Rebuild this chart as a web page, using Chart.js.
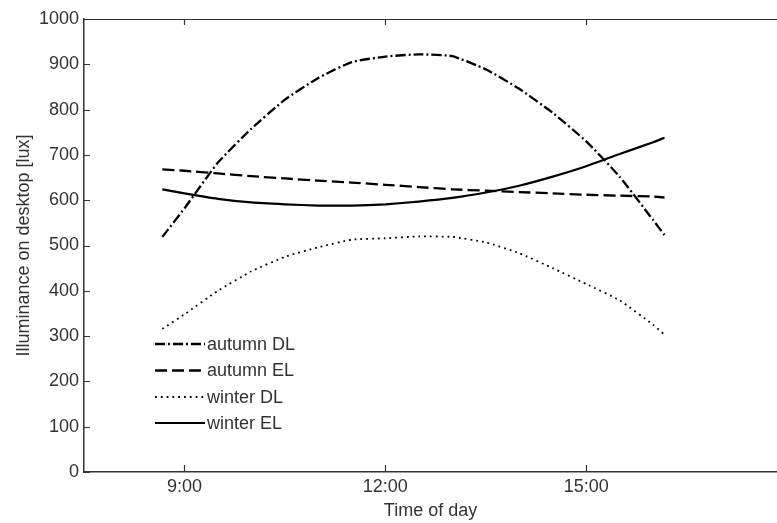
<!DOCTYPE html>
<html>
<head>
<meta charset="utf-8">
<script src="https://cdn.jsdelivr.net/npm/chart.js@4/dist/chart.umd.min.js"></script>
<style>
  html, body { margin: 0; padding: 0; background: #fff; overflow: hidden; }
  #wrap { width: 777px; height: 523px; position: relative; }
</style>
</head>
<body>
<div id="wrap"><canvas id="chart"></canvas></div>
<script>
const chartPlace = document.getElementById("chart");

const hours = [8.67, 9, 9.5, 10, 10.5, 11, 11.5, 12, 12.5, 13, 13.5, 14, 14.5, 15, 15.5, 16, 16.17];
const autumnDL = [519, 582, 683, 758, 822, 870, 905, 917, 922, 918, 889, 846, 793, 730, 652, 556, 523];
const autumnEL = [668, 665, 659, 653, 648, 643, 639, 634, 629, 624, 621, 618, 615, 612, 610, 608, 606];
const winterDL = [316, 348, 400, 443, 475, 496, 513, 516, 520, 519, 507, 483, 450, 415, 379, 325, 303];
const winterEL = [624, 615, 603, 595, 591, 588, 588, 591, 597, 605, 617, 632, 652, 675, 702, 728, 738];
const seriesNames = ["autumn DL", "autumn EL", "winter DL", "winter EL"];
const xTickValues = [9, 12, 15];
const xTickLabels = ["9:00", "12:00", "15:00"];

const axisColor = "#333";
const textColor = "#333";

Chart.defaults.font.family = "'Liberation Sans', Arial, sans-serif";
Chart.defaults.font.size = 18;
Chart.defaults.color = textColor;

function toPoints(values) {
	return hours.map((h, i) => ({ x: h, y: values[i] }));
}

const insideTicks = {
	id: "insideTicks",
	afterDraw(chart) {
		const ctx = chart.ctx;
		const area = chart.chartArea;
		const xs = chart.scales.x;
		const ys = chart.scales.y;
		ctx.save();
		ctx.setLineDash([]);
		ctx.strokeStyle = axisColor;
		ctx.lineWidth = 1.2;
		ctx.beginPath();
		ctx.moveTo(area.left, area.top + 0.5);
		ctx.lineTo(area.right, area.top + 0.5);
		xTickValues.forEach((v) => {
			const px = Math.round(xs.getPixelForValue(v)) + 0.5;
			ctx.moveTo(px, area.bottom);
			ctx.lineTo(px, area.bottom - 7);
			ctx.moveTo(px, area.top);
			ctx.lineTo(px, area.top + 6);
		});
		ys.ticks.forEach((t) => {
			const py = Math.round(ys.getPixelForValue(t.value)) + 0.5;
			ctx.moveTo(area.left, py);
			ctx.lineTo(area.left + 6, py);
		});
		ctx.stroke();

		// legend, drawn inside the plot like the original
		const rowY = [344, 370.5, 397, 423];
		ctx.textBaseline = "middle";
		ctx.textAlign = "left";
		ctx.font = "18px 'Liberation Sans', Arial, sans-serif";
		chart.data.datasets.forEach((ds, i) => {
			ctx.strokeStyle = ds.borderColor;
			ctx.lineWidth = ds.borderWidth;
			ctx.setLineDash(ds.borderDash);
			ctx.beginPath();
			ctx.moveTo(155, rowY[i]);
			ctx.lineTo(205, rowY[i]);
			ctx.stroke();
			ctx.setLineDash([]);
			ctx.fillStyle = textColor;
			ctx.fillText(ds.label, 207, rowY[i] + 1);
		});
		ctx.restore();
	},
};

const theChart = new Chart(chartPlace, {
	type: "line",
	data: {
		datasets: [
			{
				label: seriesNames[0],
				data: toPoints(autumnDL),
				borderColor: "#000",
				borderWidth: 2.3,
				borderDash: [10, 3, 2, 3],
				tension: 0.15,
			},
			{
				label: seriesNames[1],
				data: toPoints(autumnEL),
				borderColor: "#000",
				borderWidth: 2.3,
				borderDash: [12, 5],
				tension: 0.15,
			},
			{
				label: seriesNames[2],
				data: toPoints(winterDL),
				borderColor: "#000",
				borderWidth: 1.8,
				borderDash: [1.8, 4],
				tension: 0.15,
			},
			{
				label: seriesNames[3],
				data: toPoints(winterEL),
				borderColor: "#000",
				borderWidth: 2.2,
				borderDash: [],
				tension: 0.15,
			},
		],
	},
	options: {
		responsive: true,
		maintainAspectRatio: false,
		animation: false,
		layout: { padding: { top: 19, right: 0, bottom: 0, left: 0 } },
		elements: { point: { radius: 0 } },
		scales: {
			x: {
				type: "linear",
				min: 7.5,
				max: 17.85,
				afterBuildTicks: (scale) => {
					scale.ticks = xTickValues.map((v) => ({ value: v }));
				},
				afterFit: (scale) => {
					scale.height = 51;
				},
				grid: { display: false, drawTicks: false },
				border: { display: true, color: axisColor, width: 1.5 },
				ticks: {
					padding: 4,
					color: textColor,
					maxRotation: 0,
					callback: (v) => xTickLabels[xTickValues.indexOf(v)],
				},
				title: {
					display: true,
					text: "Time of day",
					color: textColor,
					padding: { top: 0, bottom: 1 },
				},
			},
			y: {
				min: 0,
				max: 1000,
				afterFit: (scale) => {
					scale.width = 84;
				},
				grid: { display: false, drawTicks: false },
				border: { display: true, color: axisColor, width: 1.5 },
				ticks: {
					stepSize: 100,
					padding: 5,
					color: textColor,
					callback: (v) => String(v),
				},
				title: {
					display: true,
					text: "Illuminance on desktop [lux]",
					color: textColor,
					padding: { top: 13, bottom: 0 },
				},
			},
		},
		plugins: {
			legend: { display: false },
			tooltip: { enabled: false },
		},
	},
	plugins: [insideTicks],
});
</script>
</body>
</html>
